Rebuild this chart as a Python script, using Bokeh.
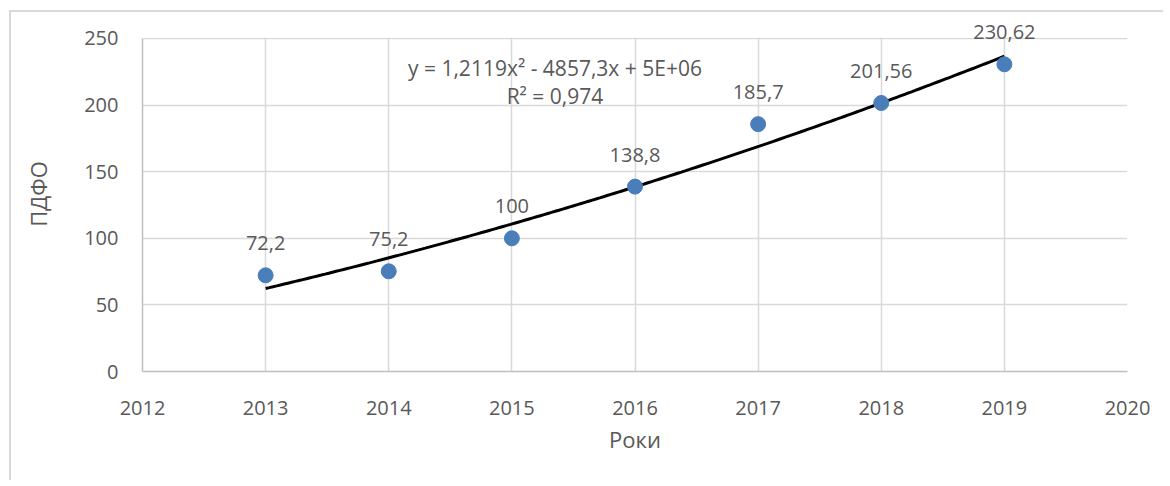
import numpy as np
from bokeh.plotting import figure
from bokeh.models import ColumnDataSource, FixedTicker, Range1d, Label, BoxAnnotation
from bokeh.embed import file_html
from bokeh.resources import INLINE

years = [2013, 2014, 2015, 2016, 2017, 2018, 2019]
pdfo = [72.2, 75.2, 100, 138.8, 185.7, 201.56, 230.62]
x_ticks = [2012, 2013, 2014, 2015, 2016, 2017, 2018, 2019, 2020]
y_ticks = [0, 50, 100, 150, 200, 250]
equation = "y = 1,2119x² - 4857,3x + 5E+06"
r2_text = "R² = 0,974"

labels = [f"{v:g}".replace(".", ",") for v in pdfo]

FONT = "Open Sans"
TXT = "#595959"
GRID = "#d9d9d9"

Y_MAX = y_ticks[-1]
# extra headroom above the top gridline so the top data label is not clipped
y_top = Y_MAX * 1.066

p = figure(width=1154, height=470, output_backend="svg", toolbar_location=None,
           x_range=Range1d(x_ticks[0], x_ticks[-1]), y_range=Range1d(0, y_top),
           min_border_left=131, min_border_right=38, min_border_top=4, min_border_bottom=111)
p.outline_line_color = None
p.background_fill_color = "white"
p.border_fill_color = "white"
p.styles = {"border-left": "2px solid #d9d9d9", "border-top": "2px solid #d9d9d9",
            "margin-left": "9px", "margin-top": "10px"}

for ax in (p.xaxis[0], p.yaxis[0]):
    ax.major_tick_line_color = None
    ax.minor_tick_line_color = None
    ax.major_label_text_font = FONT
    ax.major_label_text_color = TXT
    ax.major_label_text_font_size = "20px"
    ax.axis_label_text_font = FONT
    ax.axis_label_text_color = TXT
    ax.axis_label_text_font_size = "22px"
    ax.axis_label_text_font_style = "normal"
    ax.axis_line_color = "#bfbfbf"
    ax.axis_line_width = 1.5

p.yaxis.bounds = (0, Y_MAX)
p.xaxis.ticker = FixedTicker(ticks=x_ticks)
p.yaxis.ticker = FixedTicker(ticks=y_ticks)
p.xaxis.axis_label = "Роки"
p.yaxis.axis_label = "ПДФО"
p.xaxis.major_label_standoff = 23
p.yaxis.major_label_standoff = 18
p.xaxis.axis_label_standoff = 6
p.yaxis.axis_label_standoff = 28

p.xgrid.ticker = FixedTicker(ticks=x_ticks)
p.ygrid.ticker = FixedTicker(ticks=y_ticks)
p.xgrid.grid_line_color = GRID
p.ygrid.grid_line_color = GRID
p.xgrid.grid_line_width = 1.5
p.ygrid.grid_line_width = 1.5

# white cover above the top gridline (hides vertical gridlines in the headroom)
p.add_layout(BoxAnnotation(bottom=Y_MAX + 0.6, fill_color="white", fill_alpha=1,
                           line_color=None))

# Quadratic trendline fitted to the data
xs = np.array(years, dtype=float)
ys = np.array(pdfo, dtype=float)
xm = xs.mean()
coef = np.polyfit(xs - xm, ys, 2)
xf = np.linspace(xs.min(), xs.max(), 200)
yf = np.polyval(coef, xf - xm)
p.line(xf, yf, line_color="black", line_width=3)

src = ColumnDataSource(dict(x=years, y=pdfo, t=labels))
p.scatter("x", "y", source=src, size=15, fill_color="#4a7ebb", line_color="#4a7ebb")
for xv, yv, t in zip(years, pdfo, labels):
    p.add_layout(Label(x=xv, y=yv, text=t, text_align="center", text_baseline="bottom",
                       y_offset=25, text_font=FONT, text_font_size="20px",
                       text_color=TXT))

p.add_layout(Label(x=2015.35, y=227.5, text=equation, text_align="center",
                   text_baseline="middle", text_font=FONT, text_font_size="21px",
                   text_color=TXT))
p.add_layout(Label(x=2015.35, y=207, text=r2_text, text_align="center",
                   text_baseline="middle", text_font=FONT, text_font_size="21px",
                   text_color=TXT))

open("out.html", "w").write(file_html(p, INLINE))
